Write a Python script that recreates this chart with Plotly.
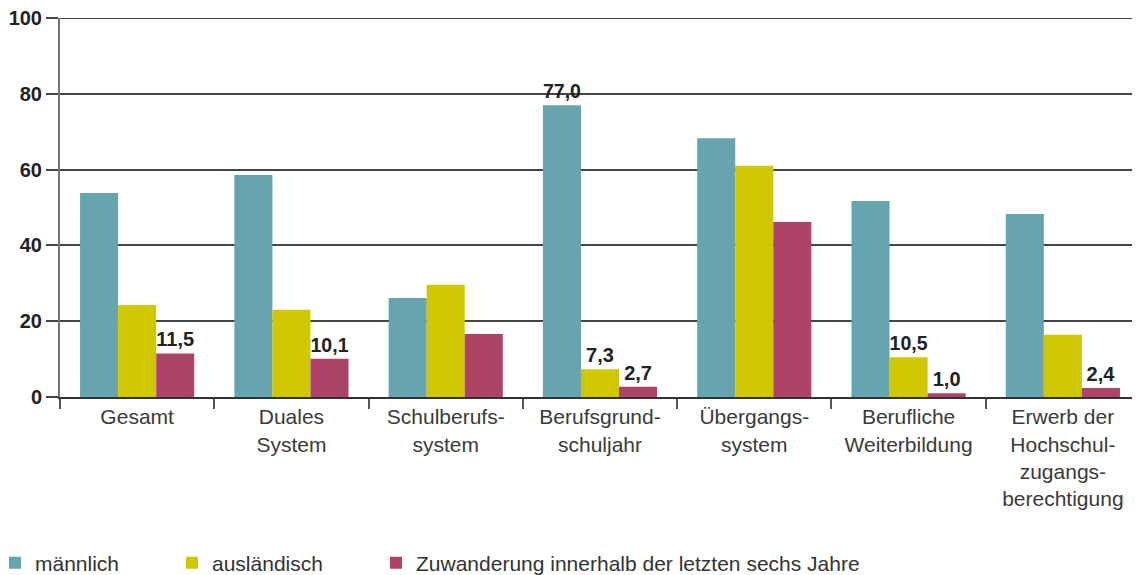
import plotly.graph_objects as go

categories = ["Gesamt", "Duales<br>System", "Schulberufs-<br>system", "Berufsgrund-<br>schuljahr",
              "Übergangs-<br>system", "Berufliche<br>Weiterbildung",
              "Erwerb der<br>Hochschul-<br>zugangs-<br>berechtigung"]
series_names = ["männlich", "ausländisch", "Zuwanderung innerhalb der letzten sechs Jahre"]
maennlich = [53.8, 58.6, 26.1, 77.0, 68.3, 51.7, 48.3]
auslaendisch = [24.3, 23.0, 29.6, 7.3, 61.0, 10.5, 16.4]
zuwanderung = [11.5, 10.1, 16.6, 2.7, 46.2, 1.0, 2.4]
# which bars carry a value label
label_m = [False, False, False, True, False, False, False]
label_a = [False, False, False, True, False, True, False]
label_z = [True, True, False, True, False, True, True]
y_ticks = [0, 20, 40, 60, 80, 100]

colors = ["#66A4AF", "#CFC800", "#AD4467"]
values = [maennlich, auslaendisch, zuwanderung]
labels = [label_m, label_a, label_z]
legends = ["legend", "legend2", "legend3"]

def fmt(v):
    return f"{v:.1f}".replace(".", ",")

fig = go.Figure()
for name, vals, lab, col, lg in zip(series_names, values, labels, colors, legends):
    fig.add_trace(go.Bar(
        x=categories, y=vals, name=name, marker=dict(color=col, line=dict(width=0)),
        text=[fmt(v) if f else "" for v, f in zip(vals, lab)],
        textposition="outside", cliponaxis=False,
        textfont=dict(family="Liberation Sans", size=20, color="#222222", weight="bold"),
        legend=lg, hoverinfo="skip", showlegend=True,
    ))

# window pixel -> paper coordinates (page body has an 8px margin)
H = 379.0
def py(px):
    return (397 - px) / H
def pxp(px):
    return (px - 60) / 1080.0

legfont = dict(family="Liberation Sans", size=21, color="#333333")
leg_common = dict(orientation="h", yanchor="middle", xanchor="left", font=legfont,
                  bgcolor="rgba(0,0,0,0)", borderwidth=0, visible=True)

fig.update_layout(
    width=1132, height=567, autosize=False, showlegend=True,
    margin=dict(l=52, r=0, t=10, b=178, pad=0, autoexpand=False),
    paper_bgcolor="white", plot_bgcolor="white",
    barmode="group", bargap=0.26, bargroupgap=0,
    legend=dict(x=pxp(-5), y=py(563), **leg_common),
    legend2=dict(x=pxp(172), y=py(563), **leg_common),
    legend3=dict(x=pxp(376), y=py(563), **leg_common),
    xaxis=dict(
        showline=True, linecolor="#333333", linewidth=2,
        ticks="outside", ticklen=10, tickwidth=2, tickcolor="#555555",
        tickson="boundaries", showgrid=False,
        tickfont=dict(family="Liberation Sans", size=21, color="#3a3a3a"),
        fixedrange=True, automargin=False,
    ),
    yaxis=dict(
        range=[0, 100], tickvals=y_ticks, showgrid=True, gridcolor="#444444", gridwidth=2,
        ticks="outside", ticklen=12, tickwidth=2, tickcolor="#444444",
        showline=True, linecolor="#777777", linewidth=2, zeroline=False,
        ticklabeloverflow="allow",
        tickfont=dict(family="Liberation Sans", size=20, color="#222222", weight="bold"),
        fixedrange=True, automargin=False,
    ),
)
# top gridline at the upper range edge
fig.add_hline(y=y_ticks[-1], line=dict(color="#444444", width=2), layer="below")
fig.write_html("out.html")
